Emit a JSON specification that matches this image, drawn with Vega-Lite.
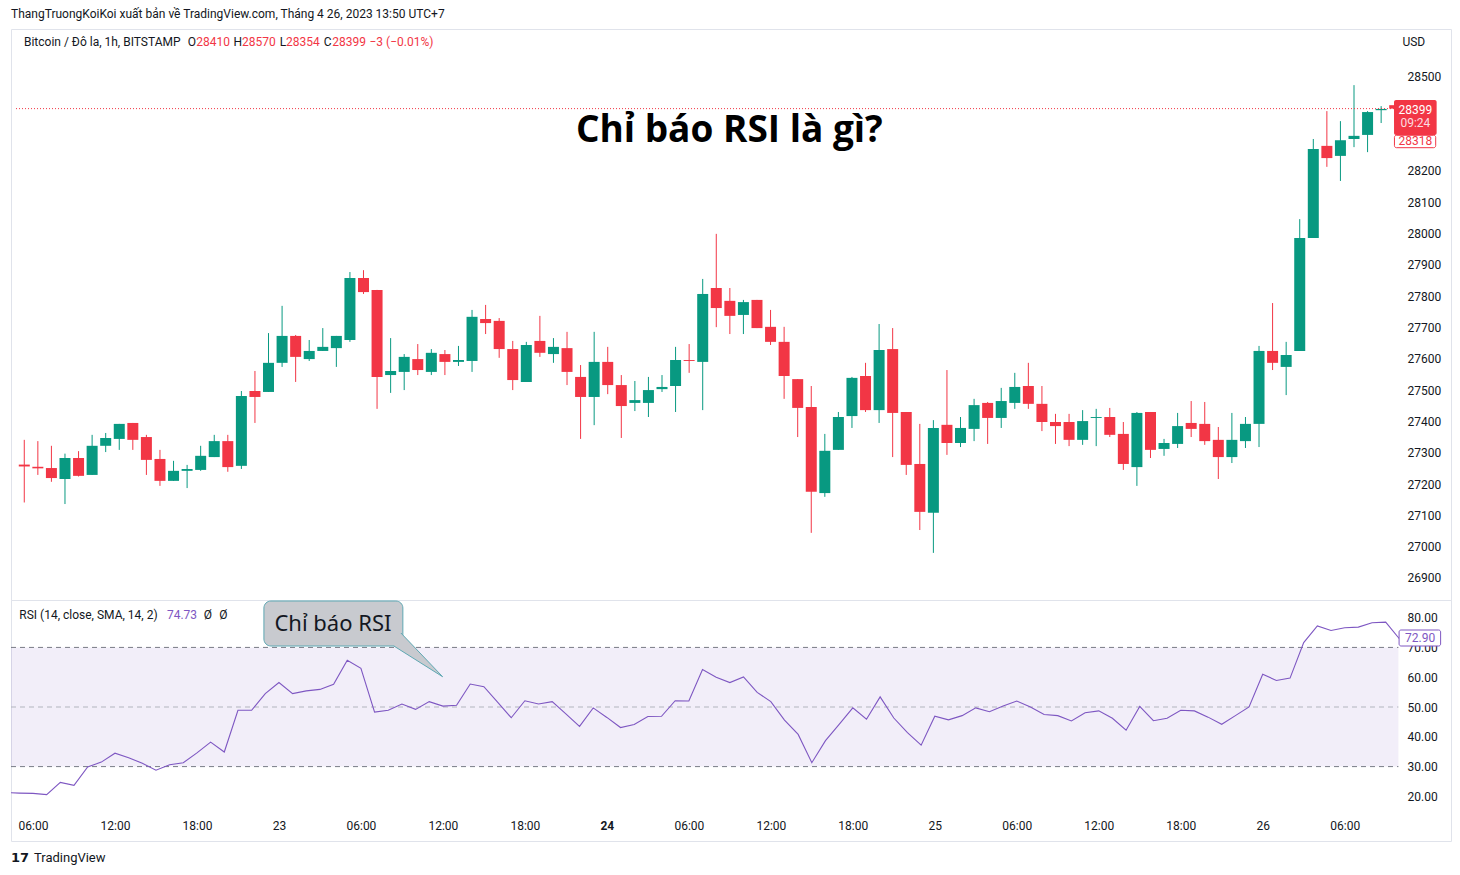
{
"$schema": "https://vega.github.io/schema/vega-lite/v6.json",
"background": "#ffffff",
"padding": {"left": 10, "top": 7, "right": 10, "bottom": 4},
"spacing": 0,
"bounds": "flush",
"title": {"text": "ThangTruongKoiKoi xuất bản về TradingView.com, Tháng 4 26, 2023 13:50 UTC+7", "anchor": "start", "frame": "group", "fontSize": 12, "fontWeight": "normal", "font": "Roboto", "color": "#131722", "offset": 8},
"config": {
  "view": {"stroke": "#e0e3eb", "strokeWidth": 1},
  "axis": {"grid": false, "domain": false, "ticks": false, "labelFont": "Roboto", "labelFontSize": 12, "labelColor": "#131722"}
},
"datasets": {
"candles": [
{"hour":5,"open":27262,"high":27341,"low":27141,"close":27256},
{"hour":6,"open":27255,"high":27337,"low":27229,"close":27250},
{"hour":7,"open":27251,"high":27322,"low":27207,"close":27219},
{"hour":8,"open":27216,"high":27297,"low":27136,"close":27283},
{"hour":9,"open":27283,"high":27305,"low":27224,"close":27226},
{"hour":10,"open":27229,"high":27357,"low":27229,"close":27322},
{"hour":11,"open":27322,"high":27363,"low":27302,"close":27347},
{"hour":12,"open":27344,"high":27392,"low":27309,"close":27392},
{"hour":13,"open":27395,"high":27395,"low":27309,"close":27341},
{"hour":14,"open":27350,"high":27357,"low":27229,"close":27277},
{"hour":15,"open":27280,"high":27309,"low":27194,"close":27210},
{"hour":16,"open":27210,"high":27274,"low":27210,"close":27242},
{"hour":17,"open":27242,"high":27261,"low":27187,"close":27248},
{"hour":18,"open":27245,"high":27322,"low":27242,"close":27290},
{"hour":19,"open":27286,"high":27357,"low":27286,"close":27337},
{"hour":20,"open":27337,"high":27357,"low":27239,"close":27254},
{"hour":21,"open":27258,"high":27497,"low":27248,"close":27481},
{"hour":22,"open":27497,"high":27561,"low":27395,"close":27478},
{"hour":23,"open":27494,"high":27682,"low":27494,"close":27587},
{"hour":24,"open":27587,"high":27769,"low":27574,"close":27673},
{"hour":25,"open":27673,"high":27676,"low":27526,"close":27606},
{"hour":26,"open":27599,"high":27660,"low":27593,"close":27625},
{"hour":27,"open":27625,"high":27698,"low":27625,"close":27638},
{"hour":28,"open":27634,"high":27673,"low":27574,"close":27673},
{"hour":29,"open":27660,"high":27877,"low":27654,"close":27858},
{"hour":30,"open":27858,"high":27883,"low":27807,"close":27813},
{"hour":31,"open":27820,"high":27820,"low":27440,"close":27542},
{"hour":32,"open":27548,"high":27666,"low":27491,"close":27561},
{"hour":33,"open":27558,"high":27615,"low":27500,"close":27606},
{"hour":34,"open":27599,"high":27647,"low":27548,"close":27564},
{"hour":35,"open":27558,"high":27631,"low":27548,"close":27619},
{"hour":36,"open":27615,"high":27628,"low":27548,"close":27590},
{"hour":37,"open":27590,"high":27641,"low":27577,"close":27596},
{"hour":38,"open":27593,"high":27756,"low":27558,"close":27734},
{"hour":39,"open":27727,"high":27772,"low":27679,"close":27714},
{"hour":40,"open":27721,"high":27730,"low":27603,"close":27631},
{"hour":41,"open":27631,"high":27657,"low":27500,"close":27532},
{"hour":42,"open":27526,"high":27654,"low":27526,"close":27644},
{"hour":43,"open":27657,"high":27737,"low":27606,"close":27619},
{"hour":44,"open":27615,"high":27666,"low":27587,"close":27638},
{"hour":45,"open":27634,"high":27686,"low":27516,"close":27558},
{"hour":46,"open":27542,"high":27580,"low":27344,"close":27478},
{"hour":47,"open":27478,"high":27686,"low":27388,"close":27590},
{"hour":48,"open":27590,"high":27638,"low":27487,"close":27516},
{"hour":49,"open":27516,"high":27548,"low":27347,"close":27449},
{"hour":50,"open":27459,"high":27529,"low":27433,"close":27468},
{"hour":51,"open":27459,"high":27542,"low":27414,"close":27500},
{"hour":52,"open":27503,"high":27548,"low":27494,"close":27510},
{"hour":53,"open":27513,"high":27638,"low":27430,"close":27596},
{"hour":54,"open":27596,"high":27647,"low":27555,"close":27593},
{"hour":55,"open":27590,"high":27855,"low":27436,"close":27807},
{"hour":56,"open":27826,"high":27999,"low":27701,"close":27762},
{"hour":57,"open":27785,"high":27826,"low":27679,"close":27737},
{"hour":58,"open":27740,"high":27788,"low":27679,"close":27781},
{"hour":59,"open":27788,"high":27788,"low":27698,"close":27698},
{"hour":60,"open":27702,"high":27756,"low":27644,"close":27654},
{"hour":61,"open":27654,"high":27702,"low":27472,"close":27545},
{"hour":62,"open":27535,"high":27535,"low":27350,"close":27443},
{"hour":63,"open":27446,"high":27513,"low":27044,"close":27175},
{"hour":64,"open":27171,"high":27360,"low":27159,"close":27306},
{"hour":65,"open":27309,"high":27430,"low":27309,"close":27414},
{"hour":66,"open":27417,"high":27542,"low":27379,"close":27539},
{"hour":67,"open":27545,"high":27587,"low":27430,"close":27436},
{"hour":68,"open":27436,"high":27711,"low":27395,"close":27628},
{"hour":69,"open":27631,"high":27698,"low":27286,"close":27427},
{"hour":70,"open":27430,"high":27430,"low":27229,"close":27261},
{"hour":71,"open":27264,"high":27392,"low":27053,"close":27111},
{"hour":72,"open":27108,"high":27404,"low":26980,"close":27379},
{"hour":73,"open":27389,"high":27564,"low":27293,"close":27331},
{"hour":74,"open":27331,"high":27414,"low":27318,"close":27379},
{"hour":75,"open":27376,"high":27472,"low":27337,"close":27452},
{"hour":76,"open":27459,"high":27462,"low":27328,"close":27411},
{"hour":77,"open":27411,"high":27507,"low":27379,"close":27465},
{"hour":78,"open":27459,"high":27555,"low":27440,"close":27510},
{"hour":79,"open":27513,"high":27587,"low":27440,"close":27456},
{"hour":80,"open":27456,"high":27513,"low":27369,"close":27398},
{"hour":81,"open":27398,"high":27424,"low":27328,"close":27385},
{"hour":82,"open":27398,"high":27424,"low":27321,"close":27341},
{"hour":83,"open":27341,"high":27436,"low":27325,"close":27401},
{"hour":84,"open":27411,"high":27440,"low":27321,"close":27414},
{"hour":85,"open":27414,"high":27443,"low":27350,"close":27357},
{"hour":86,"open":27360,"high":27398,"low":27245,"close":27264},
{"hour":87,"open":27254,"high":27430,"low":27194,"close":27427},
{"hour":88,"open":27430,"high":27430,"low":27283,"close":27309},
{"hour":89,"open":27312,"high":27344,"low":27290,"close":27331},
{"hour":90,"open":27328,"high":27427,"low":27315,"close":27385},
{"hour":91,"open":27395,"high":27465,"low":27350,"close":27376},
{"hour":92,"open":27392,"high":27462,"low":27325,"close":27337},
{"hour":93,"open":27341,"high":27382,"low":27216,"close":27286},
{"hour":94,"open":27286,"high":27427,"low":27267,"close":27341},
{"hour":95,"open":27337,"high":27414,"low":27315,"close":27392},
{"hour":96,"open":27392,"high":27641,"low":27318,"close":27625},
{"hour":97,"open":27625,"high":27778,"low":27564,"close":27587},
{"hour":98,"open":27574,"high":27654,"low":27484,"close":27612},
{"hour":99,"open":27625,"high":28046,"low":27625,"close":27986},
{"hour":100,"open":27986,"high":28302,"low":27986,"close":28270},
{"hour":101,"open":28280,"high":28391,"low":28213,"close":28241},
{"hour":102,"open":28248,"high":28359,"low":28168,"close":28298},
{"hour":103,"open":28302,"high":28474,"low":28276,"close":28312},
{"hour":104,"open":28315,"high":28391,"low":28260,"close":28388},
{"hour":105,"open":28394,"high":28407,"low":28353,"close":28398},
{"hour":106,"open":28410,"high":28420,"low":28354,"close":28399}
],
"rsi": [
{"hour":4,"rsi":21.3},{"hour":5,"rsi":21.1},{"hour":6,"rsi":21.0},{"hour":7,"rsi":20.6},{"hour":8,"rsi":24.7},{"hour":9,"rsi":23.7},{"hour":10,"rsi":29.9},{"hour":11,"rsi":31.5},{"hour":12,"rsi":34.5},{"hour":13,"rsi":33.0},{"hour":14,"rsi":31.1},{"hour":15,"rsi":28.8},{"hour":16,"rsi":30.6},{"hour":17,"rsi":31.3},{"hour":18,"rsi":34.6},{"hour":19,"rsi":38.2},{"hour":20,"rsi":34.9},{"hour":21,"rsi":48.9},{"hour":22,"rsi":48.9},{"hour":23,"rsi":54.5},{"hour":24,"rsi":58.2},{"hour":25,"rsi":54.5},{"hour":26,"rsi":55.4},{"hour":27,"rsi":55.9},{"hour":28,"rsi":57.6},{"hour":29,"rsi":65.7},{"hour":30,"rsi":63.0},{"hour":31,"rsi":48.3},{"hour":32,"rsi":48.9},{"hour":33,"rsi":51.0},{"hour":34,"rsi":49.2},{"hour":35,"rsi":51.8},{"hour":36,"rsi":50.3},{"hour":37,"rsi":50.6},{"hour":38,"rsi":57.7},{"hour":39,"rsi":56.8},{"hour":40,"rsi":51.6},{"hour":41,"rsi":46.4},{"hour":42,"rsi":52.1},{"hour":43,"rsi":51.0},{"hour":44,"rsi":51.8},{"hour":45,"rsi":47.7},{"hour":46,"rsi":43.5},{"hour":47,"rsi":49.7},{"hour":48,"rsi":46.5},{"hour":49,"rsi":43.1},{"hour":50,"rsi":44.1},{"hour":51,"rsi":46.8},{"hour":52,"rsi":46.9},{"hour":53,"rsi":52.1},{"hour":54,"rsi":52.0},{"hour":55,"rsi":62.6},{"hour":56,"rsi":60.0},{"hour":57,"rsi":58.2},{"hour":58,"rsi":60.1},{"hour":59,"rsi":54.9},{"hour":60,"rsi":51.8},{"hour":61,"rsi":45.6},{"hour":62,"rsi":40.8},{"hour":63,"rsi":31.3},{"hour":64,"rsi":38.7},{"hour":65,"rsi":44.2},{"hour":66,"rsi":49.7},{"hour":67,"rsi":45.9},{"hour":68,"rsi":53.4},{"hour":69,"rsi":46.3},{"hour":70,"rsi":41.4},{"hour":71,"rsi":37.2},{"hour":72,"rsi":46.9},{"hour":73,"rsi":45.7},{"hour":74,"rsi":47.1},{"hour":75,"rsi":49.7},{"hour":76,"rsi":48.4},{"hour":77,"rsi":50.3},{"hour":78,"rsi":52.0},{"hour":79,"rsi":50.0},{"hour":80,"rsi":47.5},{"hour":81,"rsi":47.1},{"hour":82,"rsi":45.3},{"hour":83,"rsi":48.1},{"hour":84,"rsi":48.7},{"hour":85,"rsi":46.2},{"hour":86,"rsi":42.2},{"hour":87,"rsi":50.2},{"hour":88,"rsi":45.4},{"hour":89,"rsi":46.2},{"hour":90,"rsi":48.9},{"hour":91,"rsi":48.7},{"hour":92,"rsi":46.6},{"hour":93,"rsi":44.2},{"hour":94,"rsi":47.1},{"hour":95,"rsi":50.0},{"hour":96,"rsi":61.0},{"hour":97,"rsi":58.9},{"hour":98,"rsi":59.7},{"hour":99,"rsi":71.6},{"hour":100,"rsi":77.2},{"hour":101,"rsi":75.7},{"hour":102,"rsi":76.6},{"hour":103,"rsi":76.8},{"hour":104,"rsi":78.3},{"hour":105,"rsi":78.5},{"hour":106,"rsi":72.9}
]
},
"vconcat": [
{
 "width": 1440, "height": 571,
 "layer": [
  {"data": {"name": "candles"}, "mark": {"type": "rule", "strokeWidth": 1},
   "encoding": {
    "x": {"field": "hour", "type": "quantitative", "scale": {"domain": [4.39, 109.78], "nice": false, "zero": false}, "axis": null},
    "y": {"field": "low", "type": "quantitative", "scale": {"domain": [26829.5, 28653.3], "nice": false, "zero": false},
          "axis": {"title": null, "orient": "right", "offset": -53, "labelPadding": 9, "labelAlign": "left", "format": "d", "values": [26900,27000,27100,27200,27300,27400,27500,27600,27700,27800,27900,28000,28100,28200,28500]}},
    "y2": {"field": "high"},
    "color": {"condition": {"test": "datum.close >= datum.open", "value": "#089981"}, "value": "#f23645"}
   }},
  {"data": {"name": "candles"}, "mark": {"type": "bar", "size": 11},
   "encoding": {
    "x": {"field": "hour", "type": "quantitative", "axis": null},
    "y": {"field": "open", "type": "quantitative"},
    "y2": {"field": "close"},
    "color": {"condition": {"test": "datum.close >= datum.open", "value": "#089981"}, "value": "#f23645"}
   }},
  {"data": {"values": [{}]}, "mark": {"type": "rule", "color": "#f23645", "strokeWidth": 1, "strokeDash": [1, 2]},
   "encoding": {"x": {"datum": 4.39, "type": "quantitative", "axis": null}, "x2": {"datum": 105.95}, "y": {"datum": 28399, "type": "quantitative"}}},
  {"data": {"values": [{}]}, "mark": {"type": "text", "text": "Chỉ báo RSI là gì?", "font": "Open Sans", "fontSize": 37, "fontWeight": "bold", "color": "#000000", "align": "center", "baseline": "alphabetic"},
   "encoding": {"x": {"datum": 56.96, "type": "quantitative", "axis": null}, "y": {"datum": 28292, "type": "quantitative"}}},
  {"data": {"values": [{}]}, "mark": {"type": "text", "text": "Bitcoin / Đô la, 1h, BITSTAMP", "font": "Roboto", "fontSize": 12, "color": "#131722", "align": "left", "baseline": "middle"},
   "encoding": {"x": {"datum": 4.976, "type": "quantitative", "axis": null}, "y": {"datum": 28611.8, "type": "quantitative"}}},
  {"data": {"values": [{}]}, "mark": {"type": "text", "text": "O", "font": "Roboto", "fontSize": 12, "color": "#131722", "align": "left", "baseline": "middle"},
   "encoding": {"x": {"datum": 17.05, "type": "quantitative", "axis": null}, "y": {"datum": 28611.8, "type": "quantitative"}}},
  {"data": {"values": [{}]}, "mark": {"type": "text", "text": "28410", "font": "Roboto", "fontSize": 12, "color": "#f23645", "align": "left", "baseline": "middle"},
   "encoding": {"x": {"datum": 17.67, "type": "quantitative", "axis": null}, "y": {"datum": 28611.8, "type": "quantitative"}}},
  {"data": {"values": [{}]}, "mark": {"type": "text", "text": "H", "font": "Roboto", "fontSize": 12, "color": "#131722", "align": "left", "baseline": "middle"},
   "encoding": {"x": {"datum": 20.42, "type": "quantitative", "axis": null}, "y": {"datum": 28611.8, "type": "quantitative"}}},
  {"data": {"values": [{}]}, "mark": {"type": "text", "text": "28570", "font": "Roboto", "fontSize": 12, "color": "#f23645", "align": "left", "baseline": "middle"},
   "encoding": {"x": {"datum": 21.04, "type": "quantitative", "axis": null}, "y": {"datum": 28611.8, "type": "quantitative"}}},
  {"data": {"values": [{}]}, "mark": {"type": "text", "text": "L", "font": "Roboto", "fontSize": 12, "color": "#131722", "align": "left", "baseline": "middle"},
   "encoding": {"x": {"datum": 23.82, "type": "quantitative", "axis": null}, "y": {"datum": 28611.8, "type": "quantitative"}}},
  {"data": {"values": [{}]}, "mark": {"type": "text", "text": "28354", "font": "Roboto", "fontSize": 12, "color": "#f23645", "align": "left", "baseline": "middle"},
   "encoding": {"x": {"datum": 24.29, "type": "quantitative", "axis": null}, "y": {"datum": 28611.8, "type": "quantitative"}}},
  {"data": {"values": [{}]}, "mark": {"type": "text", "text": "C", "font": "Roboto", "fontSize": 12, "color": "#131722", "align": "left", "baseline": "middle"},
   "encoding": {"x": {"datum": 27.07, "type": "quantitative", "axis": null}, "y": {"datum": 28611.8, "type": "quantitative"}}},
  {"data": {"values": [{}]}, "mark": {"type": "text", "text": "28399", "font": "Roboto", "fontSize": 12, "color": "#f23645", "align": "left", "baseline": "middle"},
   "encoding": {"x": {"datum": 27.7, "type": "quantitative", "axis": null}, "y": {"datum": 28611.8, "type": "quantitative"}}},
  {"data": {"values": [{}]}, "mark": {"type": "text", "text": "−3 (−0.01%)", "font": "Roboto", "fontSize": 12, "color": "#f23645", "align": "left", "baseline": "middle"},
   "encoding": {"x": {"datum": 30.44, "type": "quantitative", "axis": null}, "y": {"datum": 28611.8, "type": "quantitative"}}},
  {"data": {"values": [{}]}, "mark": {"type": "text", "text": "USD", "font": "Roboto", "fontSize": 12, "color": "#131722", "align": "center", "baseline": "middle"},
   "encoding": {"x": {"datum": 107.41, "type": "quantitative", "axis": null}, "y": {"datum": 28611.8, "type": "quantitative"}}},
  {"data": {"values": [{}]}, "mark": {"type": "rect", "fill": "#f23645", "cornerRadius": 2},
   "encoding": {"x": {"datum": 105.95, "type": "quantitative", "axis": null}, "x2": {"datum": 109.09}, "y": {"datum": 28426.5, "type": "quantitative"}, "y2": {"datum": 28314.7}}},
  {"data": {"values": [{}]}, "mark": {"type": "rect", "fill": "#ffffff", "stroke": "#f23645", "strokeWidth": 1, "cornerRadius": 2},
   "encoding": {"x": {"datum": 105.98, "type": "quantitative", "axis": null}, "x2": {"datum": 109.02}, "y": {"datum": 28313.8, "type": "quantitative"}, "y2": {"datum": 28274.2}}},
  {"data": {"values": [{}]}, "mark": {"type": "text", "text": "28399", "font": "Roboto", "fontSize": 12, "color": "#ffffff", "align": "center", "baseline": "middle"},
   "encoding": {"x": {"datum": 107.52, "type": "quantitative", "axis": null}, "y": {"datum": 28394.6, "type": "quantitative"}}},
  {"data": {"values": [{}]}, "mark": {"type": "text", "text": "09:24", "font": "Roboto", "fontSize": 12, "color": "#fcdde0", "align": "center", "baseline": "middle"},
   "encoding": {"x": {"datum": 107.52, "type": "quantitative", "axis": null}, "y": {"datum": 28353, "type": "quantitative"}}},
  {"data": {"values": [{}]}, "mark": {"type": "text", "text": "28318", "font": "Roboto", "fontSize": 12, "color": "#f23645", "align": "center", "baseline": "middle"},
   "encoding": {"x": {"datum": 107.52, "type": "quantitative", "axis": null}, "y": {"datum": 28294, "type": "quantitative"}}}
 ]
},
{
 "width": 1440, "height": 241,
 "layer": [
  {"data": {"values": [{}]}, "mark": {"type": "rect", "fill": "#7e57c2", "opacity": 0.1},
   "encoding": {"x": {"datum": 4.39, "type": "quantitative", "scale": {"domain": [4.39, 109.78], "nice": false, "zero": false}}, "x2": {"datum": 105.93},
                "y": {"datum": 30, "type": "quantitative", "scale": {"domain": [5.03, 85.91], "nice": false, "zero": false}}, "y2": {"datum": 70}}},
  {"data": {"values": [{}]}, "mark": {"type": "rule", "color": "#787b86", "strokeWidth": 1, "strokeDash": [5, 4]},
   "encoding": {"x": {"datum": 4.39, "type": "quantitative"}, "x2": {"datum": 105.93}, "y": {"datum": 70, "type": "quantitative"}}},
  {"data": {"values": [{}]}, "mark": {"type": "rule", "color": "#787b86", "strokeWidth": 1, "strokeDash": [5, 4]},
   "encoding": {"x": {"datum": 4.39, "type": "quantitative"}, "x2": {"datum": 105.93}, "y": {"datum": 30, "type": "quantitative"}}},
  {"data": {"values": [{}]}, "mark": {"type": "rule", "color": "#b2b5be", "strokeWidth": 1, "strokeDash": [5, 4]},
   "encoding": {"x": {"datum": 4.39, "type": "quantitative"}, "x2": {"datum": 105.93}, "y": {"datum": 50, "type": "quantitative"}}},
  {"data": {"name": "rsi"}, "mark": {"type": "line", "color": "#7e57c2", "strokeWidth": 1.1, "clip": true},
   "encoding": {
    "x": {"field": "hour", "type": "quantitative",
          "axis": {"title": null, "orient": "bottom", "offset": -28, "labelPadding": 7, "values": [6,12,18,24,30,36,42,48,54,60,66,72,78,84,90,96,102],
                   "labelExpr": "datum.value % 24 == 0 ? toString(22 + datum.value / 24) : ((datum.value % 24 < 10 ? '0' : '') + toString(datum.value % 24) + ':00')",
                   "labelFontWeight": {"condition": {"test": "datum.value == 48", "value": "bold"}, "value": "normal"}}},
    "y": {"field": "rsi", "type": "quantitative",
          "axis": {"title": null, "orient": "right", "offset": -53, "labelPadding": 9, "labelAlign": "left", "format": ".2f", "values": [20,30,40,50,60,70,80]}}
   }},
  {"data": {"values": [{}]}, "mark": {"type": "text", "text": "RSI (14, close, SMA, 14, 2)", "font": "Roboto", "fontSize": 12, "color": "#131722", "align": "left", "baseline": "middle"},
   "encoding": {"x": {"datum": 4.998, "type": "quantitative"}, "y": {"datum": 80.87, "type": "quantitative"}}},
  {"data": {"values": [{}]}, "mark": {"type": "text", "text": "74.73", "font": "Roboto", "fontSize": 12, "color": "#7e57c2", "align": "left", "baseline": "middle"},
   "encoding": {"x": {"datum": 15.8, "type": "quantitative"}, "y": {"datum": 80.87, "type": "quantitative"}}},
  {"data": {"values": [{}]}, "mark": {"type": "text", "text": "Ø", "font": "Roboto", "fontSize": 12, "color": "#131722", "align": "left", "baseline": "middle"},
   "encoding": {"x": {"datum": 18.49, "type": "quantitative"}, "y": {"datum": 80.87, "type": "quantitative"}}},
  {"data": {"values": [{}]}, "mark": {"type": "text", "text": "Ø", "font": "Roboto", "fontSize": 12, "color": "#131722", "align": "left", "baseline": "middle"},
   "encoding": {"x": {"datum": 19.63, "type": "quantitative"}, "y": {"datum": 80.87, "type": "quantitative"}}},
  {"data": {"values": [{}]}, "mark": {"type": "rect", "fill": "#c8cacf", "stroke": "#5fa8b3", "strokeWidth": 1, "cornerRadius": 7},
   "encoding": {"x": {"datum": 22.9, "type": "quantitative"}, "x2": {"datum": 33.07}, "y": {"datum": 85.57, "type": "quantitative"}, "y2": {"datum": 70.47}}},
  {"data": {"values": [{}]}, "mark": {"type": "point", "shape": "M-0.68,-0.88L0.988,0.868L-0.96,-0.36Z", "size": 2500, "filled": true, "fill": "#c8cacf", "strokeWidth": 0, "opacity": 1},
   "encoding": {"x": {"datum": 34.17, "type": "quantitative"}, "y": {"datum": 67.45, "type": "quantitative"}}},
  {"data": {"values": [{}]}, "mark": {"type": "point", "shape": "M-0.68,-0.88L0.988,0.868L-0.96,-0.36", "size": 2500, "filled": false, "stroke": "#5fa8b3", "strokeWidth": 1, "opacity": 1},
   "encoding": {"x": {"datum": 34.17, "type": "quantitative"}, "y": {"datum": 67.45, "type": "quantitative"}}},
  {"data": {"values": [{}]}, "mark": {"type": "text", "text": "Chỉ báo RSI", "font": "Noto Sans", "fontSize": 22, "color": "#131722", "align": "center", "baseline": "alphabetic"},
   "encoding": {"x": {"datum": 27.95, "type": "quantitative"}, "y": {"datum": 75.5, "type": "quantitative"}}},
  {"data": {"values": [{}]}, "mark": {"type": "rect", "fill": "#ffffff", "stroke": "#7e57c2", "strokeWidth": 1, "cornerRadius": 2},
   "encoding": {"x": {"datum": 105.98, "type": "quantitative"}, "x2": {"datum": 109.02}, "y": {"datum": 75.84, "type": "quantitative"}, "y2": {"datum": 70.47}}},
  {"data": {"values": [{}]}, "mark": {"type": "text", "text": "72.90", "font": "Roboto", "fontSize": 12, "color": "#7e57c2", "align": "center", "baseline": "middle"},
   "encoding": {"x": {"datum": 107.52, "type": "quantitative"}, "y": {"datum": 73.15, "type": "quantitative"}}},
  {"data": {"values": [{}]}, "mark": {"type": "text", "text": "17", "font": "DejaVu Sans", "fontSize": 13, "fontWeight": "bold", "color": "#131722", "align": "left", "baseline": "middle"},
   "encoding": {"x": {"datum": 4.39, "type": "quantitative"}, "y": {"datum": -0.67, "type": "quantitative"}}},
  {"data": {"values": [{}]}, "mark": {"type": "text", "text": "TradingView", "font": "Roboto", "fontSize": 13, "color": "#131722", "align": "left", "baseline": "middle"},
   "encoding": {"x": {"datum": 6.07, "type": "quantitative"}, "y": {"datum": -0.67, "type": "quantitative"}}}
 ]
}
]
}
